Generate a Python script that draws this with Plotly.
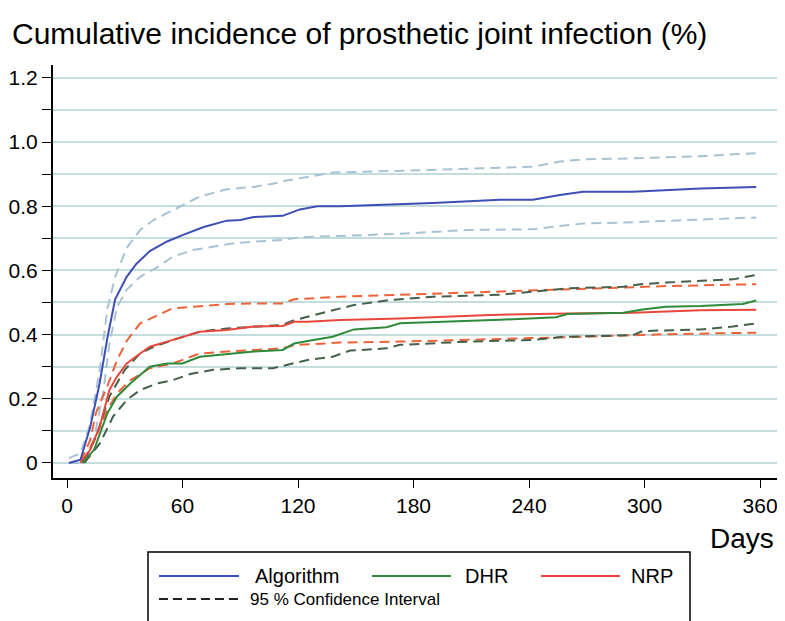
import plotly.graph_objects as go

# ---------------- data ----------------
alg_days = [1, 7, 12, 17, 21, 25, 31, 36, 43, 52, 60, 71, 83, 90, 97, 112, 121, 130, 142, 173, 190, 225, 242, 256, 268, 294, 329, 358]
alg_val = [0.0, 0.01, 0.11, 0.25, 0.39, 0.51, 0.58, 0.62, 0.66, 0.69, 0.71, 0.735, 0.755, 0.757, 0.766, 0.77, 0.79, 0.80, 0.80, 0.805, 0.81, 0.82, 0.82, 0.835, 0.845, 0.845, 0.855, 0.86]

alg_up_days = [1, 7, 12, 17, 21, 25, 31, 38, 45, 55, 60, 69, 83, 97, 107, 114, 121, 138, 190, 242, 256, 268, 294, 329, 358]
alg_up_val = [0.015, 0.03, 0.12, 0.29, 0.48, 0.58, 0.67, 0.726, 0.757, 0.788, 0.804, 0.83, 0.853, 0.86, 0.87, 0.88, 0.887, 0.905, 0.913, 0.923, 0.939, 0.946, 0.949, 0.956, 0.965]

alg_lo_days = [1, 8, 14, 19, 22, 26, 31, 38, 47, 55, 66, 76, 86, 98, 112, 121, 138, 173, 208, 242, 256, 268, 294, 329, 358]
alg_lo_val = [0.0, 0.0, 0.072, 0.227, 0.37, 0.486, 0.54, 0.58, 0.61, 0.643, 0.664, 0.674, 0.684, 0.69, 0.695, 0.703, 0.707, 0.714, 0.726, 0.728, 0.738, 0.746, 0.75, 0.759, 0.765]

dhr_days = [8, 14, 21, 26, 33, 43, 52, 60, 69, 83, 97, 112, 118, 125, 138, 149, 166, 173, 199, 225, 254, 260, 289, 299, 311, 329, 351, 358]
dhr_val = [0.0, 0.04, 0.155, 0.207, 0.248, 0.30, 0.31, 0.31, 0.331, 0.34, 0.347, 0.352, 0.372, 0.38, 0.393, 0.416, 0.423, 0.435, 0.44, 0.446, 0.454, 0.464, 0.468, 0.478, 0.487, 0.489, 0.495, 0.506]

dhr_up_days = [9, 15, 22, 30, 38, 45, 55, 69, 83, 97, 112, 118, 125, 138, 149, 168, 190, 225, 254, 260, 289, 298, 311, 346, 358]
dhr_up_val = [0.005, 0.08, 0.207, 0.29, 0.341, 0.362, 0.383, 0.409, 0.419, 0.425, 0.43, 0.445, 0.456, 0.477, 0.492, 0.508, 0.518, 0.524, 0.539, 0.544, 0.549, 0.557, 0.562, 0.572, 0.586]

dhr_lo_days = [9, 17, 24, 31, 38, 47, 55, 64, 76, 90, 107, 118, 125, 138, 147, 166, 173, 208, 242, 258, 294, 299, 329, 346, 358]
dhr_lo_val = [0.0, 0.06, 0.145, 0.196, 0.227, 0.248, 0.258, 0.277, 0.29, 0.295, 0.295, 0.31, 0.321, 0.331, 0.35, 0.357, 0.368, 0.378, 0.383, 0.393, 0.398, 0.411, 0.416, 0.425, 0.435]

nrp_days = [7, 12, 17, 22, 26, 31, 38, 43, 52, 60, 69, 83, 97, 112, 118, 125, 142, 173, 220, 260, 294, 329, 358]
nrp_val = [0.0, 0.04, 0.113, 0.227, 0.269, 0.31, 0.341, 0.362, 0.378, 0.393, 0.409, 0.414, 0.425, 0.427, 0.44, 0.44, 0.445, 0.45, 0.461, 0.466, 0.468, 0.476, 0.477]

nrp_up_days = [7, 12, 15, 21, 26, 31, 38, 47, 55, 66, 83, 97, 112, 118, 125, 142, 173, 225, 268, 311, 358]
nrp_up_val = [0.005, 0.07, 0.155, 0.24, 0.32, 0.38, 0.435, 0.461, 0.482, 0.487, 0.495, 0.497, 0.497, 0.51, 0.513, 0.518, 0.524, 0.534, 0.544, 0.551, 0.557]

nrp_lo_days = [8, 15, 21, 26, 33, 43, 55, 69, 83, 97, 112, 118, 142, 173, 225, 268, 311, 358]
nrp_lo_val = [0.0, 0.082, 0.165, 0.217, 0.258, 0.295, 0.31, 0.341, 0.347, 0.352, 0.357, 0.367, 0.375, 0.378, 0.385, 0.393, 0.401, 0.406]

x_ticks = [0, 60, 120, 180, 240, 300, 360]
y_ticks = [0, 0.1, 0.2, 0.3, 0.4, 0.5, 0.6, 0.7, 0.8, 0.9, 1.0, 1.1, 1.2]
y_labels = ["0", "", "0.2", "", "0.4", "", "0.6", "", "0.8", "", "1.0", "", "1.2"]

title_text = "Cumulative incidence of prosthetic joint infection (%)"
x_title = "Days"
legend_names = ["Algorithm", "DHR", "NRP", "95 % Confidence Interval"]

# ---------------- styles ----------------
C_ALG = "#3d4fb5"
C_ALG_CI = "#a8c3d3"
C_DHR = "#2f8a3c"
C_DHR_CI = "#45604a"
C_NRP = "#e8473d"
C_NRP_CI = "#ee6238"
FONT = "Liberation Sans, Arial, sans-serif"
CI_DASH = "10px,6px"

fig = go.Figure()

def add(xs, ys, color, dash, width):
    fig.add_trace(go.Scatter(x=xs, y=ys, mode="lines", showlegend=False,
                             line=dict(color=color, dash=dash, width=width, shape="linear"),
                             hoverinfo="skip"))

add(alg_up_days, alg_up_val, C_ALG_CI, CI_DASH, 2)
add(alg_lo_days, alg_lo_val, C_ALG_CI, CI_DASH, 2)
add(nrp_up_days, nrp_up_val, C_NRP_CI, CI_DASH, 2)
add(nrp_lo_days, nrp_lo_val, C_NRP_CI, CI_DASH, 2)
add(dhr_up_days, dhr_up_val, C_DHR_CI, CI_DASH, 2)
add(dhr_lo_days, dhr_lo_val, C_DHR_CI, CI_DASH, 2)
add(alg_days, alg_val, C_ALG, "solid", 2)
add(nrp_days, nrp_val, C_NRP, "solid", 2)
add(dhr_days, dhr_val, C_DHR, "solid", 2)

# the page shows the figure from (8, 8) to (777, 621); figure coords = page - 8
OFF = 8
W, H = 777 - OFF, 621 - OFF
L, R, T = 53 - OFF, 0, 65 - OFF
B = H - (478 - OFF)
pw, ph = W - L - R, H - T - B

def px(x):
    return (x - OFF - L) / pw

def py(y):
    return (H - B - (y - OFF)) / ph

fig.update_layout(
    width=W, height=H,
    margin=dict(l=L, r=R, t=T, b=B, autoexpand=False),
    paper_bgcolor="white", plot_bgcolor="white",
    font=dict(family=FONT, color="black", size=22),
    showlegend=False,
)
fig.update_xaxes(range=[-7.27, 368.8], tickvals=x_ticks, ticktext=[str(v) for v in x_ticks],
                 showgrid=False, zeroline=False, showline=True, linecolor="black", linewidth=2,
                 ticks="outside", ticklen=8, tickwidth=1, tickcolor="black",
                 tickfont=dict(size=21, family=FONT), automargin=False,
                 ticklabeloverflow="allow")
fig.update_yaxes(range=[-0.047, 1.24], tickvals=y_ticks, ticktext=y_labels,
                 showgrid=True, gridcolor="#c3dcdd", gridwidth=1.5, zeroline=False,
                 showline=True, linecolor="black", linewidth=2,
                 ticks="outside", ticklen=9, tickwidth=1, tickcolor="black",
                 tickfont=dict(size=21, family=FONT), automargin=False)

ann = []
ann.append(dict(text=title_text, x=px(10), y=py(33), xref="paper", yref="paper",
                xanchor="left", yanchor="middle", showarrow=False,
                font=dict(size=30, family=FONT, color="black")))
ann.append(dict(text=x_title, x=px(776), y=py(538), xref="paper", yref="paper",
                xanchor="right", yanchor="middle", showarrow=False,
                font=dict(size=28, family=FONT, color="black")))

shapes = []
# legend box
shapes.append(dict(type="rect", xref="paper", yref="paper", x0=px(148), x1=px(690),
                   y0=py(552), y1=py(640), line=dict(color="black", width=1.5), fillcolor="white", layer="above"))
row1 = 576
items = [(159, 239, C_ALG, 253, legend_names[0]),
         (372, 451, C_DHR, 463, legend_names[1]),
         (541, 620, C_NRP, 629, legend_names[2])]
for x0, x1, col, tx, name in items:
    shapes.append(dict(type="line", xref="paper", yref="paper", x0=px(x0), x1=px(x1),
                       y0=py(row1), y1=py(row1), line=dict(color=col, width=2)))
    ann.append(dict(text=name, x=px(tx), y=py(row1), xref="paper", yref="paper",
                    xanchor="left", yanchor="middle", showarrow=False,
                    font=dict(size=20, family=FONT, color="black")))
row2 = 599
shapes.append(dict(type="line", xref="paper", yref="paper", x0=px(159), x1=px(239),
                   y0=py(row2), y1=py(row2), line=dict(color="#222222", width=2, dash="9px,5px")))
ann.append(dict(text=legend_names[3], x=px(248), y=py(row2), xref="paper", yref="paper",
                xanchor="left", yanchor="middle", showarrow=False,
                font=dict(size=17, family=FONT, color="black")))

fig.update_layout(annotations=ann, shapes=shapes)
fig.write_html("out.html")
